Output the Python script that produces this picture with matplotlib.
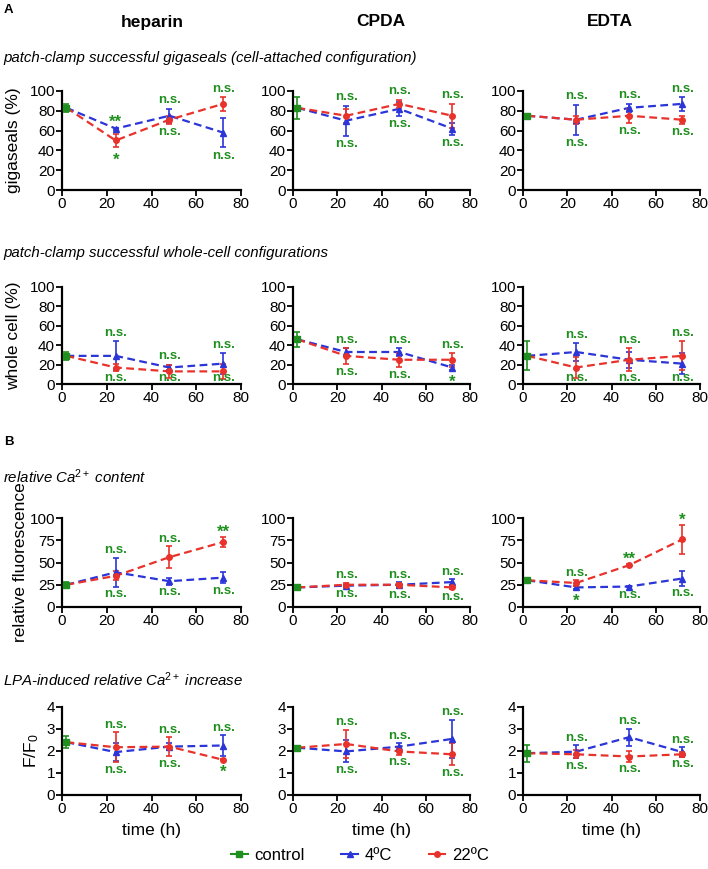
import matplotlib
matplotlib.use("Agg")
import matplotlib.pyplot as plt
from matplotlib.lines import Line2D

plt.rcParams['font.family'] = ['Liberation Sans', 'DejaVu Sans']
plt.rcParams['mathtext.fontset'] = 'custom'
plt.rcParams['mathtext.rm'] = 'Liberation Sans'
plt.rcParams['mathtext.it'] = 'Liberation Sans:italic'

GREEN = '#1f8f1f'
BLUE = '#2b35d8'
RED = '#e8322b'

columns = ['heparin', 'CPDA', 'EDTA']
times = [24, 48, 72]
ctrl_time = 2

# row 1: gigaseals (%)
giga_ctrl = [83, 83, 75]
giga_ctrl_err = [4, 11, 1]
giga_4c = [[62, 75, 58], [70, 82, 62], [71, 83, 87]]
giga_4c_err = [[1, 7, 15], [15, 7, 6], [15, 4, 7]]
giga_22c = [[50, 71, 87], [75, 87, 75], [71, 75, 71]]
giga_22c_err = [[7, 4, 7], [7, 4, 12], [4, 7, 4]]
giga_above = [['**', 'n.s.', 'n.s.'], ['n.s.', 'n.s.', 'n.s.'], ['n.s.', 'n.s.', 'n.s.']]
giga_below = [['*', 'n.s.', 'n.s.'], ['n.s.', 'n.s.', 'n.s.'], ['n.s.', 'n.s.', 'n.s.']]

# row 2: whole cell (%)
whole_ctrl = [29, 46, 29]
whole_ctrl_err = [4, 8, 15]
whole_4c = [[29, 17, 21], [33, 33, 17], [33, 25, 21]]
whole_4c_err = [[15, 3, 11], [4, 4, 3], [9, 8, 11]]
whole_22c = [[17, 13, 13], [29, 25, 25], [17, 25, 29]]
whole_22c_err = [[4, 7, 8], [8, 7, 7], [11, 12, 15]]
whole_above = [['n.s.', 'n.s.', 'n.s.'], ['n.s.', 'n.s.', 'n.s.'], ['n.s.', 'n.s.', 'n.s.']]
whole_below = [['n.s.', 'n.s.', 'n.s.'], ['n.s.', 'n.s.', '*'], ['n.s.', 'n.s.', 'n.s.']]

# row 3: relative fluorescence
fluo_ctrl = [25, 22, 30]
fluo_ctrl_err = [3, 1, 2]
fluo_4c = [[39, 29, 33], [24, 25, 28], [22, 23, 32]]
fluo_4c_err = [[16, 4, 6], [1, 3, 3], [2, 1, 8]]
fluo_22c = [[35, 56, 73], [25, 25, 22], [27, 47, 76]]
fluo_22c_err = [[5, 12, 6], [2, 2, 2], [3, 1, 16]]
fluo_above = [['n.s.', 'n.s.', '**'], ['n.s.', 'n.s.', 'n.s.'], ['n.s.', '**', '*']]
fluo_below = [['n.s.', 'n.s.', 'n.s.'], ['n.s.', 'n.s.', 'n.s.'], ['*', 'n.s.', 'n.s.']]

# row 4: F/F0
lpa_ctrl = [2.4, 2.15, 1.9]
lpa_ctrl_err = [0.28, 0.07, 0.38]
lpa_4c = [[1.95, 2.2, 2.25], [1.98, 2.2, 2.55], [1.97, 2.63, 1.95]]
lpa_4c_err = [[0.42, 0.15, 0.47], [0.5, 0.15, 0.87], [0.3, 0.38, 0.22]]
lpa_22c = [[2.17, 2.2, 1.6], [2.32, 1.98, 1.85], [1.85, 1.75, 1.85]]
lpa_22c_err = [[0.68, 0.43, 0.03], [0.65, 0.15, 0.5], [0.18, 0.25, 0.1]]
lpa_above = [['n.s.', 'n.s.', 'n.s.'], ['n.s.', 'n.s.', 'n.s.'], ['n.s.', 'n.s.', 'n.s.']]
lpa_below = [['n.s.', 'n.s.', '*'], ['n.s.', 'n.s.', 'n.s.'], ['n.s.', 'n.s.', 'n.s.']]

rows = [
    dict(ctrl=giga_ctrl, ctrl_err=giga_ctrl_err, c4=giga_4c, c4_err=giga_4c_err,
         c22=giga_22c, c22_err=giga_22c_err, above=giga_above, below=giga_below,
         ylim=100, yticks=[0, 20, 40, 60, 80, 100], ylabel='gigaseals (%)', labx=21),
    dict(ctrl=whole_ctrl, ctrl_err=whole_ctrl_err, c4=whole_4c, c4_err=whole_4c_err,
         c22=whole_22c, c22_err=whole_22c_err, above=whole_above, below=whole_below,
         ylim=100, yticks=[0, 20, 40, 60, 80, 100], ylabel='whole cell (%)', labx=21),
    dict(ctrl=fluo_ctrl, ctrl_err=fluo_ctrl_err, c4=fluo_4c, c4_err=fluo_4c_err,
         c22=fluo_22c, c22_err=fluo_22c_err, above=fluo_above, below=fluo_below,
         ylim=100, yticks=[0, 25, 50, 75, 100], ylabel='relative fluorescence', labx=28),
    dict(ctrl=lpa_ctrl, ctrl_err=lpa_ctrl_err, c4=lpa_4c, c4_err=lpa_4c_err,
         c22=lpa_22c, c22_err=lpa_22c_err, above=lpa_above, below=lpa_below,
         ylim=4, yticks=[0, 1, 2, 3, 4], ylabel='F/F$_0$', labx=41),
]

W, H = 708, 869
fig = plt.figure(figsize=(W / 100, H / 100), dpi=100)

col_x = [(62, 241), (293, 470), (523, 700)]
row_y = [(91, 190), (287, 384), (518, 607), (707, 795)]

ebkw = dict(capsize=2.5, elinewidth=1.2, capthick=1.2, linestyle='none', clip_on=False, zorder=4)

for r, d in enumerate(rows):
    for c in range(3):
        x0, x1 = col_x[c]
        y0, y1 = row_y[r]
        ax = fig.add_axes([x0 / W, 1 - y1 / H, (x1 - x0) / W, (y1 - y0) / H])
        cm, ce = d['ctrl'][c], d['ctrl_err'][c]
        m4, e4 = d['c4'][c], d['c4_err'][c]
        m22, e22 = d['c22'][c], d['c22_err'][c]
        ax.plot([ctrl_time] + times, [cm] + m4, color=BLUE, ls=(0, (3.5, 2)), lw=1.6, zorder=2, clip_on=False)
        ax.plot([ctrl_time] + times, [cm] + m22, color=RED, ls=(0, (3.5, 2)), lw=1.6, zorder=3, clip_on=False)
        ax.errorbar(times, m4, yerr=e4, color=BLUE, marker='^', ms=4, **ebkw)
        ax.errorbar(times, m22, yerr=e22, color=RED, marker='o', ms=4, **ebkw)
        ax.errorbar([ctrl_time], [cm], yerr=[ce], color=GREEN, marker='s', ms=4, **ebkw)

        rng = d['ylim']
        for i, t in enumerate(times):
            top = max(m4[i] + e4[i], m22[i] + e22[i])
            bot = min(m4[i] - e4[i], m22[i] - e22[i])
            ya = top + 0.085 * rng
            yb = max(bot - 0.085 * rng, 0.06 * rng)
            for lab, y, up in [(d['above'][c][i], ya, True), (d['below'][c][i], yb, False)]:
                if lab.startswith('*'):
                    ax.text(t, y - (0.03 if up else 0.045) * rng, lab, color=GREEN, fontsize=12,
                            fontweight='bold', ha='center', va='center', zorder=5)
                else:
                    ax.text(t, y, lab, color=GREEN, fontsize=9.5, fontweight='bold',
                            ha='center', va='center', zorder=5)

        ax.set_xlim(0, 80)
        ax.set_ylim(0, d['ylim'])
        ax.set_xticks([0, 20, 40, 60, 80])
        ax.set_yticks(d['yticks'])
        for s in ['top', 'right']:
            ax.spines[s].set_visible(False)
        for s in ['left', 'bottom']:
            ax.spines[s].set_linewidth(1.6)
        ax.tick_params(direction='out', length=4, width=1.3, labelsize=11, pad=1)
        ax.patch.set_alpha(0)
        if c == 0:
            ax.set_ylabel(d['ylabel'], fontsize=12.5)
            ax.yaxis.set_label_coords((d['labx'] - x0) / (x1 - x0), 0.5)
        if r == 3:
            ax.set_xlabel('time (h)', fontsize=12.5, labelpad=5)

heads = [(152, 'heparin'), (381, 'CPDA'), (610, 'EDTA')]
for x, t in heads:
    fig.text(x / W, 1 - 22 / H, t, fontsize=12.5, fontweight='bold', ha='center', va='center')
fig.text(4 / W, 1 - 10 / H, 'A', fontsize=9.5, fontweight='bold', ha='left', va='center')
fig.text(4 / W, 1 - 442 / H, 'B', fontsize=9.5, fontweight='bold', ha='left', va='center')

subs = [(58, 'patch-clamp successful gigaseals (cell-attached configuration)'),
        (253, 'patch-clamp successful whole-cell configurations'),
        (477, 'relative Ca$^{2+}$ content'),
        (680, 'LPA-induced relative Ca$^{2+}$ increase')]
for y, t in subs:
    fig.text(3 / W, 1 - y / H, t, fontsize=10.8, style='italic', ha='left', va='center')

handles = [
    Line2D([], [], color=GREEN, marker='s', ms=4, lw=1.5),
    Line2D([], [], color=BLUE, marker='^', ms=4, lw=1.5),
    Line2D([], [], color=RED, marker='o', ms=4, lw=1.5),
]
fig.legend(handles, ['control', '4ºC', '22ºC'], loc='center', bbox_to_anchor=(360 / W, 1 - 855 / H),
           ncol=3, frameon=False, fontsize=12, handlelength=1.0, handletextpad=0.4, columnspacing=2.2)

fig.savefig('out.png', dpi=100)
